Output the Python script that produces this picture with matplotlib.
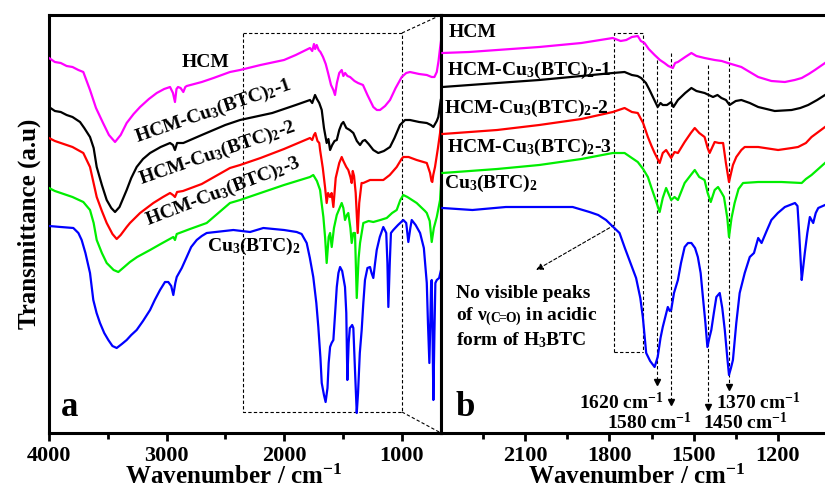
import matplotlib
matplotlib.use('Agg')
import matplotlib.pyplot as plt

plt.rcParams['font.family'] = ['Liberation Serif', 'DejaVu Serif']
plt.rcParams['font.weight'] = 'bold'
plt.rcParams['axes.labelweight'] = 'bold'
plt.rcParams['mathtext.fontset'] = 'custom'
plt.rcParams['mathtext.rm'] = 'Liberation Serif:bold'
plt.rcParams['mathtext.bf'] = 'Liberation Serif:bold'
plt.rcParams['mathtext.it'] = 'Liberation Serif:bold:italic'
plt.rcParams['mathtext.default'] = 'bf'

# ---------------- data: panel a (full range) ----------------
a_hcm_wn = [4000, 3950, 3900, 3850, 3800, 3750, 3708, 3651, 3600, 3540, 3490, 3438, 3390, 3339, 3280, 3225,
            3150, 3083, 3020, 2970, 2945, 2928, 2915, 2902, 2880, 2857, 2840, 2828, 2700, 2600, 2460, 2374,
            2200, 2000, 1900, 1779, 1760, 1745, 1735, 1722, 1705, 1690, 1668, 1645, 1625, 1600, 1580, 1566,
            1550, 1530, 1509, 1495, 1480, 1460, 1438, 1400, 1370, 1328, 1290, 1240, 1210, 1183, 1140, 1098,
            1050, 998, 960, 928, 850, 785, 743, 720, 700, 685, 672, 664]
a_hcm_t = [375, 371, 370, 367, 366, 363, 361, 343, 325, 310, 298, 291, 298, 310, 319, 326,
           334, 340, 344, 346, 340, 331, 344, 346, 345, 341, 346, 347, 351, 355, 361, 363,
           368, 373, 378, 385, 382, 389, 384, 388, 383, 381, 376, 369, 360, 348, 343, 338,
           350, 360, 363, 357, 360, 357, 356, 352, 350, 348, 338, 326, 323, 323, 327, 333,
           345, 356, 360, 361, 359, 358, 356, 356, 361, 372, 385, 392]

a_m1_wn = [4000, 3950, 3900, 3850, 3800, 3736, 3700, 3651, 3620, 3594, 3550, 3509, 3470, 3438, 3400, 3339,
           3300, 3254, 3200, 3140, 3050, 2970, 2945, 2928, 2910, 2857, 2700, 2500, 2374, 2100, 1900, 1779,
           1760, 1736, 1720, 1700, 1679, 1660, 1637, 1622, 1608, 1590, 1570, 1551, 1530, 1510, 1495, 1470,
           1440, 1410, 1380, 1353, 1330, 1311, 1280, 1240, 1198, 1150, 1098, 1060, 1013, 970, 928, 850,
           785, 750, 729, 700, 687, 666]
a_m1_t = [326, 322, 321, 318, 316, 311, 305, 296, 285, 266, 248, 233, 225, 221, 226, 243,
          255, 266, 274, 280, 286, 290, 288, 283, 290, 290, 298, 308, 313, 320, 328, 333,
          330, 338, 334, 330, 323, 305, 290, 294, 283, 288, 292, 293, 303, 309, 311, 305,
          303, 300, 292, 288, 292, 293, 289, 283, 280, 282, 286, 295, 308, 313, 313, 311,
          310, 308, 306, 312, 316, 333]

a_m2_wn = [4000, 3950, 3900, 3800, 3708, 3651, 3594, 3550, 3509, 3460, 3424, 3390, 3339, 3311, 3225, 3112,
           3030, 2970, 2945, 2928, 2910, 2860, 2700, 2460, 2374, 2200, 2000, 1779, 1760, 1745, 1734, 1715,
           1700, 1693, 1670, 1651, 1637, 1625, 1608, 1595, 1580, 1560, 1530, 1509, 1495, 1470, 1453, 1435,
           1424, 1415, 1404, 1390, 1373, 1360, 1340, 1325, 1268, 1155, 1100, 1041, 1000, 985, 940, 871,
           785, 757, 745, 738, 730, 715, 690, 672, 664]
a_m2_t = [295, 292, 290, 286, 280, 266, 236, 222, 210, 199, 194, 198, 206, 210, 220, 230,
          236, 240, 238, 236, 241, 242, 249, 265, 268, 275, 284, 295, 293, 298, 300, 292,
          290, 283, 265, 246, 230, 240, 236, 240, 226, 255, 270, 276, 272, 266, 263, 256,
          250, 262, 257, 240, 200, 230, 250, 250, 253, 253, 258, 266, 274, 276, 276, 273,
          270, 260, 252, 251, 258, 266, 285, 300, 313]

a_m3_wn = [4000, 3950, 3900, 3800, 3708, 3651, 3620, 3594, 3550, 3509, 3450, 3410, 3370, 3311, 3250, 3140,
           3050, 2942, 2928, 2913, 2800, 2658, 2460, 2374, 2200, 2000, 1779, 1751, 1720, 1693, 1680, 1665,
           1650, 1637, 1620, 1608, 1594, 1575, 1551, 1530, 1509, 1495, 1481, 1465, 1453, 1435, 1424, 1410,
           1396, 1381, 1365, 1353, 1325, 1280, 1240, 1180, 1126, 1080, 1041, 1010, 985, 950, 871, 800,
           785, 760, 743, 725, 700, 680, 672, 664]
a_m3_t = [245, 242, 240, 236, 231, 223, 210, 193, 180, 170, 163, 161, 165, 171, 176, 183,
          189, 196, 193, 199, 204, 210, 230, 233, 240, 248, 256, 258, 252, 243, 230, 216,
          195, 170, 196, 200, 186, 205, 218, 224, 230, 225, 213, 218, 220, 205, 190, 200,
          200, 135, 175, 190, 210, 212, 211, 213, 215, 220, 223, 233, 238, 236, 230, 222,
          220, 212, 191, 205, 216, 228, 233, 248]

a_cu_wn = [4000, 3900, 3793, 3750, 3722, 3690, 3651, 3623, 3595, 3566, 3530, 3495, 3460, 3424, 3380, 3339,
           3300, 3254, 3200, 3140, 3100, 3055, 3013, 2985, 2960, 2942, 2925, 2913, 2870, 2828, 2790, 2743,
           2700, 2658, 2431, 2289, 2176, 2000, 1892, 1850, 1807, 1780, 1751, 1725, 1708, 1690, 1679, 1660,
           1646, 1630, 1620, 1608, 1595, 1580, 1565, 1551, 1537, 1523, 1505, 1490, 1481, 1470, 1461, 1450,
           1440, 1432, 1420, 1410, 1395, 1381, 1370, 1355, 1339, 1325, 1311, 1290, 1268, 1255, 1240, 1225,
           1211, 1185, 1155, 1130, 1120, 1112, 1100, 1090, 1070, 1030, 985, 960, 942, 925, 913, 880,
           842, 810, 785, 775, 763, 755, 748, 743, 736, 729, 720, 712, 700, 680, 664]
a_cu_t = [207, 206, 205, 200, 193, 180, 160, 133, 120, 110, 100, 93, 87, 85, 89, 93,
          98, 103, 112, 123, 133, 143, 151, 151, 147, 138, 150, 156, 165, 176, 186, 193,
          197, 200, 203, 201, 205, 203, 201, 199, 190, 175, 156, 130, 106, 75, 50, 38,
          31, 45, 70, 86, 90, 93, 120, 146, 160, 166, 162, 152, 146, 120, 53, 90,
          105, 106, 108, 105, 60, 20, 40, 80, 103, 130, 153, 165, 166, 160, 155, 170,
          183, 196, 206, 200, 170, 126, 170, 200, 203, 208, 213, 210, 191, 205, 213, 208,
          200, 185, 150, 110, 70, 110, 150, 153, 100, 33, 100, 150, 153, 155, 163]

# ---------------- data: panel b (zoomed region) ----------------
b_hcm_wn = [2395, 2300, 2200, 2050, 1900, 1788, 1760, 1740, 1720, 1699, 1688, 1675, 1660, 1639, 1620, 1604,
            1590, 1574, 1566, 1556, 1530, 1508, 1490, 1461, 1425, 1400, 1378, 1330, 1300, 1270, 1223, 1175,
            1140, 1115, 1090, 1068, 1032]
b_hcm_t = [380, 381, 383, 386, 390, 395, 392, 393, 396, 397, 392, 390, 384, 378, 373, 370,
           367, 365, 370, 371, 376, 380, 377, 375, 373, 372, 370, 366, 361, 356, 352, 351,
           353, 355, 359, 363, 370]

b_m1_wn = [2395, 2200, 2050, 1900, 1788, 1746, 1720, 1700, 1687, 1670, 1657, 1640, 1628, 1618, 1610, 1595,
           1580, 1572, 1556, 1530, 1508, 1490, 1461, 1431, 1415, 1401, 1385, 1372, 1350, 1330, 1300, 1270,
           1211, 1151, 1120, 1092, 1060, 1032]
b_m1_t = [346, 350, 353, 357, 360, 361, 358, 357, 355, 350, 343, 333, 326, 330, 328, 328,
          331, 326, 333, 340, 345, 342, 340, 336, 338, 335, 333, 328, 332, 333, 330, 326,
          322, 323, 325, 328, 333, 338]

b_m2_wn = [2395, 2200, 2050, 1900, 1788, 1746, 1720, 1699, 1680, 1663, 1650, 1639, 1621, 1610, 1598, 1580,
           1568, 1556, 1532, 1510, 1496, 1480, 1461, 1450, 1443, 1425, 1410, 1395, 1385, 1374, 1360, 1348,
           1330, 1318, 1270, 1199, 1150, 1128, 1100, 1080, 1032]
b_m2_t = [299, 303, 308, 314, 321, 325, 321, 320, 310, 296, 287, 280, 270, 280, 283, 275,
          281, 280, 291, 300, 305, 300, 296, 285, 280, 291, 290, 290, 270, 251, 268, 276,
          283, 286, 286, 283, 285, 286, 290, 296, 306]

b_m3_wn = [2395, 2200, 2050, 1900, 1788, 1746, 1720, 1699, 1680, 1663, 1650, 1639, 1621, 1610, 1598, 1580,
           1568, 1556, 1532, 1510, 1496, 1480, 1461, 1450, 1439, 1425, 1413, 1400, 1392, 1380, 1374, 1365,
           1354, 1340, 1324, 1270, 1187, 1115, 1100, 1080, 1032]
b_m3_t = [260, 264, 268, 274, 280, 280, 275, 271, 264, 256, 245, 236, 221, 235, 245, 233,
          236, 233, 250, 258, 263, 256, 253, 240, 231, 243, 246, 240, 236, 215, 196, 215,
          230, 244, 250, 251, 251, 250, 254, 258, 270]

b_cu_wn = [2395, 2288, 2169, 1931, 1871, 1840, 1812, 1790, 1764, 1745, 1729, 1705, 1690, 1681, 1669, 1655,
           1639, 1628, 1618, 1610, 1592, 1585, 1580, 1570, 1556, 1545, 1532, 1520, 1508, 1495, 1485, 1475,
           1467, 1458, 1451, 1444, 1437, 1428, 1419, 1407, 1398, 1389, 1380, 1374, 1367, 1360, 1348, 1336,
           1318, 1300, 1285, 1270, 1258, 1240, 1223, 1200, 1175, 1139, 1130, 1124, 1115, 1110, 1104, 1095,
           1086, 1074, 1065, 1056, 1032]
b_cu_t = [225, 223, 226, 226, 221, 218, 213, 207, 200, 185, 173, 155, 135, 116, 80, 72,
          66, 76, 95, 106, 126, 122, 123, 140, 153, 170, 186, 190, 190, 185, 176, 160,
          136, 110, 86, 95, 103, 120, 136, 140, 125, 103, 75, 58, 65, 73, 110, 140,
          160, 176, 180, 195, 190, 202, 213, 220, 226, 230, 227, 200, 153, 165, 180, 200,
          216, 210, 220, 225, 228]

series_names = [r'HCM', r'HCM-Cu$_3$(BTC)$_2$-1', r'HCM-Cu$_3$(BTC)$_2$-2',
                r'HCM-Cu$_3$(BTC)$_2$-3', r'Cu$_3$(BTC)$_2$']
series_colors = ['#FF00FF', '#000000', '#FF0000', '#00EE00', '#0000FF']

a_ticks = [4000, 3000, 2000, 1000]
a_minor = [3500, 2500, 1500]
b_ticks = [2100, 1800, 1500, 1200]
b_minor = [2250, 1950, 1650, 1350]

peak_pos = [1632, 1580, 1449, 1374]
peak_labels = [r'1620 cm$^{\mathregular{-1}}$', r'1580 cm$^{\mathregular{-1}}$',
               r'1450 cm$^{\mathregular{-1}}$', r'1370 cm$^{\mathregular{-1}}$']

# ---------------- figure ----------------
fig = plt.figure(figsize=(8.25, 4.9), dpi=100)
ax_a = fig.add_axes([49 / 825, 57 / 490, 392 / 825, 418 / 490])
ax_b = fig.add_axes([441 / 825, 57 / 490, 384 / 825, 418 / 490])

a_data = [(a_hcm_wn, a_hcm_t), (a_m1_wn, a_m1_t), (a_m2_wn, a_m2_t), (a_m3_wn, a_m3_t), (a_cu_wn, a_cu_t)]
b_data = [(b_hcm_wn, b_hcm_t), (b_m1_wn, b_m1_t), (b_m2_wn, b_m2_t), (b_m3_wn, b_m3_t), (b_cu_wn, b_cu_t)]

for (wn, t), c in zip(a_data, series_colors):
    ax_a.plot(wn, t, color=c, lw=1.6, zorder=3)
for (wn, t), c in zip(b_data, series_colors):
    ax_b.plot(wn, t, color=c, lw=1.6, zorder=3)

for ax, lim, maj, mnr in [(ax_a, (4000, 664), a_ticks, a_minor), (ax_b, (2400, 1032), b_ticks, b_minor)]:
    ax.set_xlim(*lim)
    ax.set_ylim(0, 418)
    ax.set_yticks([])
    ax.set_xticks(maj)
    ax.set_xticks(mnr, minor=True)
    ax.tick_params(axis='x', which='major', direction='out', length=6, width=2, labelsize=16, pad=3)
    ax.tick_params(axis='x', which='minor', direction='out', length=4, width=2)
    for s in ax.spines.values():
        s.set_linewidth(2.2)
    ax.set_xlabel(r'Wavenumber / cm$^{\mathregular{-1}}$', fontsize=18, labelpad=0)
    for lab in ax.get_xticklabels():
        lab.set_fontweight('bold')
ax_b.spines['right'].set_visible(False)
ax_a.xaxis.set_label_coords(0.47, -0.075)
ax_b.xaxis.set_label_coords(0.51, -0.075)

ax_a.set_ylabel('Transmittance (a.u)', fontsize=18, labelpad=6)

dash = dict(color='black', lw=0.8, ls=(0, (3, 2)), zorder=1)
# zoom box in panel a and connectors
ax_a.plot([2349, 996, 996, 2349, 2349], [400, 400, 21, 21, 400], **dash)
ax_a.plot([996, 664], [400, 418], clip_on=False, **dash)
ax_a.plot([996, 664], [21, 0], clip_on=False, **dash)

# panel a labels
ax_a.text(2664, 371, series_names[0], fontsize=14, ha='center', va='center', zorder=5)
ax_a.text(2604, 322, series_names[1], fontsize=14, ha='center', va='center', rotation=19, zorder=5)
ax_a.text(2570, 280, series_names[2], fontsize=14, ha='center', va='center', rotation=19, zorder=5)
ax_a.text(2519, 241, series_names[3], fontsize=14, ha='center', va='center', rotation=21, zorder=5)
ax_a.text(2255, 187, series_names[4], fontsize=14, ha='center', va='center', zorder=5)
ax_a.text(3821, 26, 'a', fontsize=25, ha='center', va='center')

# panel b labels
b_label_pos = [(2371, 401), (2379, 363), (2389, 325), (2379, 286), (2389, 250)]
for name, (x, y) in zip(series_names, b_label_pos):
    ax_b.text(x, y, name, fontsize=14, ha='left', va='center', zorder=5)
ax_b.text(2314, 26, 'b', fontsize=25, ha='center', va='center')

# box around the 1780-1680 region
ax_b.plot([1782, 1782, 1681, 1681], [81, 400, 400, 81], **dash)
ax_b.plot([1782, 1681], [81, 81], **dash)
ax_b.annotate('', xy=(2061, 163), xytext=(1782, 208),
              arrowprops=dict(arrowstyle='-|>', color='black', lw=0.8, ls=(0, (3, 2)),
                              mutation_scale=10, shrinkA=0, shrinkB=0), zorder=1)
ax_b.text(2346, 140, 'No visible peaks', fontsize=14, ha='left', va='center')
ax_b.text(2346, 116, r'of ν$_{\mathregular{(C\!\!=\!\!O)}}$ in acidic', fontsize=14, ha='left', va='center')
ax_b.text(2346, 93, r'form of H$_3$BTC', fontsize=14, ha='left', va='center')

# peak guide lines
starts = [373, 380, 368, 376]
tips = [48, 28, 23, 43]
for x, s, e in zip(peak_pos, starts, tips):
    ax_b.plot([x, x], [s, e + 4], **dash)
    ax_b.plot([x], [e + 3], marker='v', ms=5, color='black', zorder=2)

ax_b.text(1757, 30, peak_labels[0], fontsize=14, ha='center', va='center')
ax_b.text(1657, 11, peak_labels[1], fontsize=14, ha='center', va='center')
ax_b.text(1314, 11, peak_labels[2], fontsize=14, ha='center', va='center')
ax_b.text(1268, 30, peak_labels[3], fontsize=14, ha='center', va='center')

fig.savefig('out.png', dpi=100)
